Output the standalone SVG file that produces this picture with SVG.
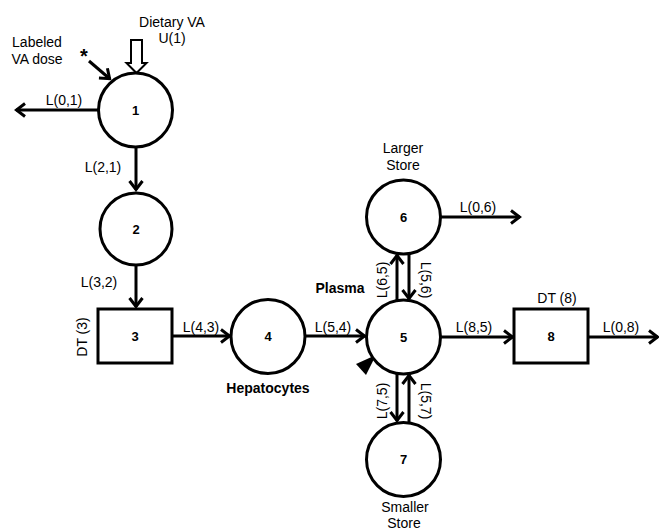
<svg xmlns="http://www.w3.org/2000/svg" width="659" height="530" viewBox="0 0 659 530">
<defs>
<style>
.n{fill:#fff;stroke:#000;stroke-width:3}
.c{stroke:#000;stroke-width:3;fill:none}
.t{font-family:"Liberation Sans",Arial,sans-serif;font-size:14px;fill:#000}
.m{text-anchor:middle}
.b{font-weight:bold;font-size:13px}
</style>
<marker id="ah" markerUnits="userSpaceOnUse" markerWidth="16" markerHeight="16" refX="12" refY="8" orient="auto">
<path d="M3,1.5 L11.5,8 L3,14.5" fill="none" stroke="#000" stroke-width="3"/>
</marker>
</defs>
<rect width="659" height="530" fill="#fff"/>

<g id="connectors">
<line class="c" x1="98" y1="110" x2="16" y2="110" marker-end="url(#ah)"/>
<line class="c" x1="136" y1="147" x2="136" y2="190" marker-end="url(#ah)"/>
<line class="c" x1="136" y1="265" x2="136" y2="307" marker-end="url(#ah)"/>
<line class="c" x1="172" y1="336" x2="230" y2="336" marker-end="url(#ah)"/>
<line class="c" x1="305" y1="336" x2="365" y2="336" marker-end="url(#ah)"/>
<line class="c" x1="441" y1="337" x2="513" y2="337" marker-end="url(#ah)"/>
<line class="c" x1="589" y1="337" x2="658" y2="337" marker-end="url(#ah)"/>
<line class="c" x1="441" y1="217" x2="520" y2="217" marker-end="url(#ah)"/>
<line class="c" x1="397" y1="300" x2="397" y2="255" marker-end="url(#ah)"/>
<line class="c" x1="409" y1="254" x2="409" y2="299" marker-end="url(#ah)"/>
<line class="c" x1="397" y1="374" x2="397" y2="421" marker-end="url(#ah)"/>
<line class="c" x1="409" y1="423" x2="409" y2="375" marker-end="url(#ah)"/>
<line class="c" x1="89" y1="61" x2="110" y2="79" marker-end="url(#ah)"/>
<path d="M131,40 L142,40 L142,63 L146.5,63 L136.5,73 L126.5,63 L131,63 Z" fill="#fff" stroke="#000" stroke-width="2"/>
<polygon points="356,364 376,355 366,375" fill="#000"/>
</g>

<g id="labels">
<text class="t m" x="172" y="27">Dietary VA</text>
<text class="t m" x="172" y="43">U(1)</text>
<text class="t m" x="37" y="47">Labeled</text>
<text class="t m" x="37" y="64">VA dose</text>
<text class="t m" x="84" y="63" style="font-size:20px;font-weight:bold">*</text>
<text class="t m" x="64" y="105">L(0,1)</text>
<text class="t m" x="103" y="172">L(2,1)</text>
<text class="t m" x="99" y="287">L(3,2)</text>
<text class="t m" transform="translate(87,337) rotate(-90)">DT (3)</text>
<text class="t m" x="201" y="332">L(4,3)</text>
<text class="t m" x="333" y="332">L(5,4)</text>
<text class="t m" x="474" y="332">L(8,5)</text>
<text class="t m" x="621" y="332">L(0,8)</text>
<text class="t m" x="557" y="303">DT (8)</text>
<text class="t m" x="478" y="212">L(0,6)</text>
<text class="t m" x="403" y="153">Larger</text>
<text class="t m" x="403" y="170">Store</text>
<text class="t m" x="405" y="512">Smaller</text>
<text class="t m" x="404" y="528">Store</text>
<text class="t m" style="font-weight:bold" x="340" y="293">Plasma</text>
<text class="t m" style="font-weight:bold" x="268" y="393">Hepatocytes</text>
<text class="t m" transform="translate(387,280) rotate(-90)">L(6,5)</text>
<text class="t m" transform="translate(421,280) rotate(90)">L(5,6)</text>
<text class="t m" transform="translate(387,401) rotate(-90)">L(7,5)</text>
<text class="t m" transform="translate(421,401) rotate(90)">L(5,7)</text>
</g>

<g id="node1"><circle class="n" cx="135.5" cy="110" r="37"/><text class="t m b" x="135.5" y="115">1</text></g>
<g id="node2"><circle class="n" cx="136" cy="229" r="36"/><text class="t m b" x="136" y="234">2</text></g>
<g id="node3"><rect class="n" x="98" y="309" width="74" height="54"/><text class="t m b" x="135" y="341">3</text></g>
<g id="node4"><circle class="n" cx="268" cy="336.5" r="37"/><text class="t m b" x="268" y="341">4</text></g>
<g id="node5"><circle class="n" cx="403.5" cy="337" r="37"/><text class="t m b" x="403.5" y="342">5</text></g>
<g id="node6"><circle class="n" cx="403.5" cy="217" r="37"/><text class="t m b" x="403.5" y="222">6</text></g>
<g id="node7"><circle class="n" cx="403.5" cy="459.5" r="37"/><text class="t m b" x="403.5" y="464">7</text></g>
<g id="node8"><rect class="n" x="514" y="309" width="74" height="54"/><text class="t m b" x="551" y="341">8</text></g>
</svg>
